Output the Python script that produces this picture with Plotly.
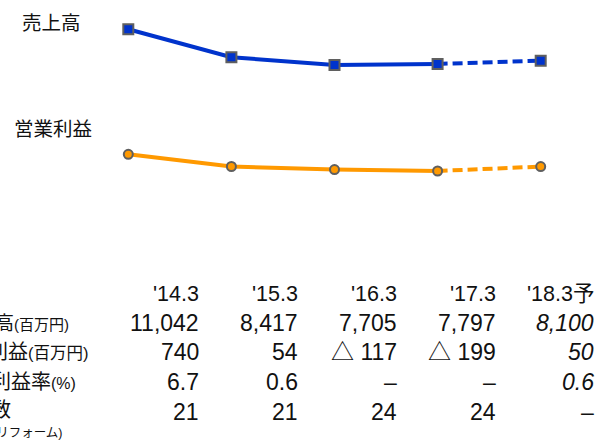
import plotly.graph_objects as go

# ---- data ----
periods = ["'14.3", "'15.3", "'16.3", "'17.3", "'18.3予"]
sales = [11042, 8417, 7705, 7797, 8100]
op_profit = [740, 54, -117, -199, 50]

sales_txt = ["11,042", "8,417", "7,705", "7,797", "<i>8,100</i>"]
profit_txt = ["740", "54", "△ 117", "△ 199", "<i>50</i>"]
margin_txt = ["6.7", "0.6", "–", "–", "<i>0.6</i>"]
stores_txt = ["21", "21", "24", "24", "–"]

row_labels = [
    "売上高<span style='font-size:15px'>(百万円)</span>",
    "営業利益<span style='font-size:16.5px'>(百万円)</span>",
    "営業利益率<span style='font-size:16px'>(%)</span>",
    "店舗数",
]
sub_label = "(リフォーム)"

series_titles = ["売上高", "営業利益"]

W, H = 600, 442
FONT = "Liberation Sans, Arial, Noto Sans CJK JP, sans-serif"
BLUE = "#0033cc"
ORANGE = "#ff9900"
EDGE = "#5f5f5f"
DASH = "10px,5px"

xs = list(range(len(periods)))

fig = go.Figure()

# Sales: solid actual, dashed forecast
fig.add_trace(go.Scatter(x=xs[:4], y=sales[:4], mode="lines", yaxis="y",
                         line=dict(color=BLUE, width=4), hoverinfo="skip"))
fig.add_trace(go.Scatter(x=xs[3:], y=sales[3:], mode="lines", yaxis="y",
                         line=dict(color=BLUE, width=4, dash=DASH), hoverinfo="skip"))
fig.add_trace(go.Scatter(x=xs, y=sales, mode="markers", yaxis="y",
                         marker=dict(symbol="square", size=10, color=BLUE,
                                     line=dict(color=EDGE, width=2))))

# Operating profit
fig.add_trace(go.Scatter(x=xs[:4], y=op_profit[:4], mode="lines", yaxis="y2",
                         line=dict(color=ORANGE, width=4), hoverinfo="skip"))
fig.add_trace(go.Scatter(x=xs[3:], y=op_profit[3:], mode="lines", yaxis="y2",
                         line=dict(color=ORANGE, width=4, dash=DASH), hoverinfo="skip"))
fig.add_trace(go.Scatter(x=xs, y=op_profit, mode="markers", yaxis="y2",
                         marker=dict(symbol="circle", size=9, color=ORANGE,
                                     line=dict(color=EDGE, width=2))))

ann = []
# series titles
ann.append(dict(x=51 / W, y=1 - 23 / H, text=series_titles[0], font=dict(size=19.5)))
ann.append(dict(x=52.5 / W, y=1 - 129 / H, text=series_titles[1], font=dict(size=19.5)))

# table
col_right = [201, 300, 399, 498, 596]
row_y = [323, 352, 382, 412]
rows = [sales_txt, profit_txt, margin_txt, stores_txt]
for i, p in enumerate(periods):
    ann.append(dict(x=col_right[i] / W, y=1 - 294 / H, text=p, xanchor="right",
                    font=dict(size=21.5)))
for r, vals in enumerate(rows):
    for i, v in enumerate(vals):
        ann.append(dict(x=col_right[i] / W, y=1 - row_y[r] / H, text=v, xanchor="right",
                        font=dict(size=23)))

label_right = [71, 91, 78, 13]
label_y = [323, 352, 382, 410]
label_size = [19, 20, 20, 20]
for lbl, xr, yy, sz in zip(row_labels, label_right, label_y, label_size):
    ann.append(dict(x=xr / W, y=1 - yy / H, text=lbl, xanchor="right", font=dict(size=sz)))
ann.append(dict(x=64 / W, y=1 - 433 / H, text=sub_label, xanchor="right", font=dict(size=12.5)))

for a in ann:
    a.update(xref="paper", yref="paper", showarrow=False, yanchor="middle")
    a.setdefault("xanchor", "center")
    a["font"].update(family=FONT, color="#111111")

fig.update_layout(
    width=W, height=H,
    margin=dict(l=0, r=0, t=0, b=0),
    paper_bgcolor="white", plot_bgcolor="white",
    showlegend=False,
    xaxis=dict(range=[-1.2444, 4.5752], visible=False, fixedrange=True),
    yaxis=dict(range=[-27647, 13789], visible=False, fixedrange=True),
    yaxis2=dict(range=[-15429, 9412], visible=False, overlaying="y", fixedrange=True),
    annotations=ann,
)

fig.write_html(
    "out.html",
    config={"displayModeBar": False},
    post_script="document.body.style.margin='0';document.body.style.overflow='hidden';",
)
